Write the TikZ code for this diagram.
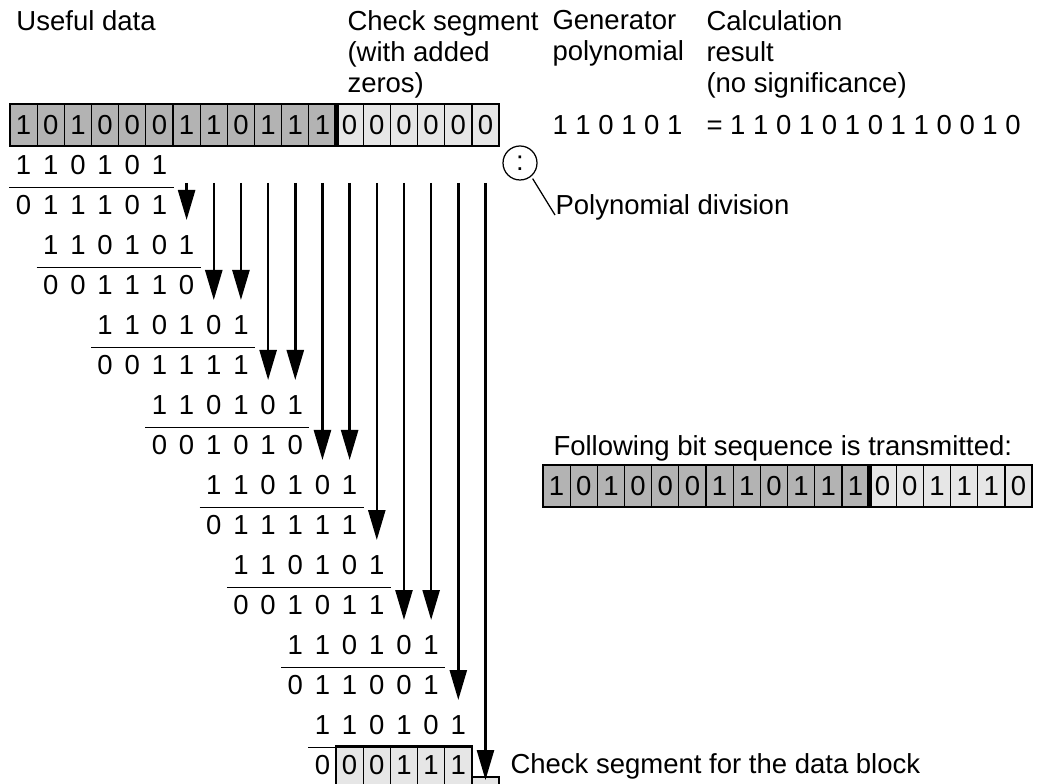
\documentclass[tikz,border=0pt]{standalone}
\usepackage{fontspec}
\setmainfont{Liberation Sans}
\usepackage{xcolor}
\usetikzlibrary{arrows.meta,calc}
\definecolor{datagrey}{HTML}{B3B3B3}
\definecolor{checkgrey}{HTML}{E6E6E6}

\begin{document}
\begin{tikzpicture}[
    x=0.4pt,y=-0.4pt,
    font=\fontsize{11}{12.4}\selectfont,
    cell/.style={draw,line width=0.5pt,minimum width=10.87pt,minimum height=16.8pt,inner sep=0pt},
    datacell/.style={cell,fill=datagrey},
    chkcell/.style={cell,fill=checkgrey},
    digit/.style={minimum width=10.87pt,minimum height=17.6pt,inner sep=0pt},
    rule/.style={line width=0.5pt},
    drop/.style={-{Triangle[length=12pt,width=6.8pt]},line width=1pt},
    title/.style={anchor=north west,align=left,inner sep=0pt},
    label/.style={anchor=base west,inner sep=0pt}
]
    \clip (0,0) rectangle (1037,784);

    \node[title] (useful) at (16,10) {Useful data};
    \node[title] (checkseg) at (347,10) {Check segment\\(with added\\zeros)};
    \node[title] (gentitle) at (552,10) {Generator\\polynomial};
    \node[title] (restitle) at (706,10) {Calculation\\result\\(no significance)};

    \foreach \b [count=\i from 0] in {1,0,1,0,0,0,1,1,0,1,1,1}
        \node[datacell] (in\i) at ({23.585+27.17*\i},125) {\b};
    \foreach \b [count=\i from 12] in {0,0,0,0,0,0}
        \node[chkcell] (in\i) at ({23.585+27.17*\i},125) {\b};
    \draw[line width=2pt] (in11.north east) -- (in11.south east);

    \node[anchor=west,inner sep=0pt] (gen) at (552,125) {1 1 0 1 0 1};
    \node[anchor=west,inner sep=0pt] (quot) at (706,125) {= 1 1 0 1 0 1 0 1 1 0 0 1 0};

    \node[circle,draw,line width=0.5pt,minimum size=13.6pt,inner sep=0pt] (div) at (520,163) {:};
    \node[label] (poly) at (555,215) {Polynomial division};
    \draw[rule,shorten <=1pt] (div.-50) -- (poly.base west);

    \foreach \c in {12,...,16}
        \filldraw[rule,fill=checkgrey] ({10+27.17*\c},746) rectangle ++(27.17,60);
    \filldraw[rule,fill=checkgrey] ({10+27.17*17},777) rectangle ++(27.17,30);

    \foreach \row/\start/\bits in {0/0/{1,1,0,1,0,1},1/0/{0,1,1,1,0,1},2/1/{1,1,0,1,0,1},3/1/{0,0,1,1,1,0},
        4/3/{1,1,0,1,0,1},5/3/{0,0,1,1,1,1},6/5/{1,1,0,1,0,1},7/5/{0,0,1,0,1,0},
        8/7/{1,1,0,1,0,1},9/7/{0,1,1,1,1,1},10/8/{1,1,0,1,0,1},11/8/{0,0,1,0,1,1},
        12/10/{1,1,0,1,0,1},13/10/{0,1,1,0,0,1},14/11/{1,1,0,1,0,1},15/11/{0,0,0,1,1,1}}{
        \foreach \d [count=\k from 0] in \bits
            \node[digit] (d\row-\k) at ({23.585+27.17*(\start+\k)},{165+40*\row}) {\d};
    }
    \foreach \row in {0,2,...,14}
        \draw[rule] (d\row-0.south west) -- (d\row-5.south east);

    \foreach \row/\col in {1/6,3/7,3/8,5/9,5/10,7/11,7/12,9/13,11/14,11/15,13/16,15/17}{
        \coordinate (top\col) at ({23.585+27.17*\col},183);
        \coordinate (tip\col) at ({23.585+27.17*\col},{180+40*\row});
        \draw[drop] (top\col) -- (tip\col);
    }

    \node[label] (sent) at (553,455) {Following bit sequence is transmitted:};
    \foreach \b [count=\i from 0] in {1,0,1,0,0,0,1,1,0,1,1,1}
        \node[datacell] (out\i) at ({556.585+27.17*\i},486) {\b};
    \foreach \b [count=\i from 12] in {0,0,1,1,1,0}
        \node[chkcell] (out\i) at ({556.585+27.17*\i},486) {\b};
    \draw[line width=2pt] (out11.north east) -- (out11.south east);

    \node[label] (crc) at (510,773) {Check segment for the data block};
\end{tikzpicture}
\end{document}
